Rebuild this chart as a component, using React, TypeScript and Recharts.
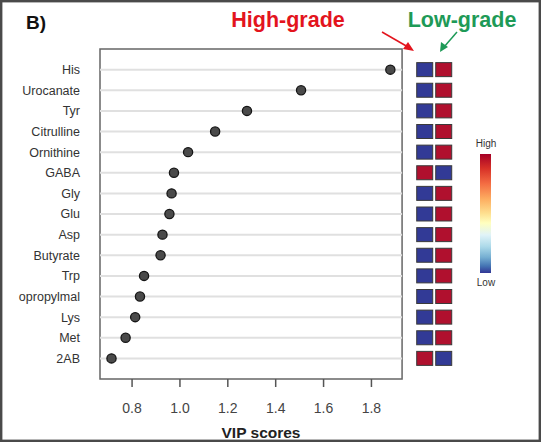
import React from "react";
import {
  ScatterChart,
  Scatter,
  XAxis,
  YAxis,
  ReferenceLine,
  ReferenceArea,
} from "recharts";

// ---- data ----
const metabolites = [
  "His",
  "Urocanate",
  "Tyr",
  "Citrulline",
  "Ornithine",
  "GABA",
  "Gly",
  "Glu",
  "Asp",
  "Butyrate",
  "Trp",
  "opropylmal",
  "Lys",
  "Met",
  "2AB",
];
const vipScores = [1.879, 1.506, 1.28, 1.147, 1.034, 0.975, 0.965, 0.956, 0.927, 0.919, 0.85, 0.833, 0.813, 0.773, 0.714];
// 1 = high relative level, 0 = low
const highGradeLevel = [0, 0, 0, 0, 0, 1, 0, 0, 0, 0, 0, 0, 0, 0, 1];
const lowGradeLevel = [1, 1, 1, 1, 1, 0, 1, 1, 1, 1, 1, 1, 1, 1, 0];
const xTicks = [0.8, 1.0, 1.2, 1.4, 1.6, 1.8];
const groupLabels = ["High-grade", "Low-grade"];
const colorbarLabels = ["High", "Low"];

const FONT = "'Liberation Sans', Arial, Helvetica, sans-serif";
const VIP_MIN = 0.666;
const VIP_MAX = 1.928;
const LOW_COLOR = "#323a96";
const HIGH_COLOR = "#b0102e";

const vipData = metabolites.map((name, i) => ({ name, idx: i, vip: vipScores[i] }));
const highData = metabolites.map((name, i) => ({ name, idx: i, col: 0, level: highGradeLevel[i] }));
const lowData = metabolites.map((name, i) => ({ name, idx: i, col: 1, level: lowGradeLevel[i] }));
const rowIdx = metabolites.map((_, i) => i);

const Dot = (props: any) => {
  const { cx, cy } = props;
  if (cx == null || cy == null) return null;
  return <circle cx={cx} cy={cy} r={4.6} fill="#4a4a4a" stroke="#151515" strokeWidth={1.3} />;
};

const Cell = (props: any) => {
  const { cx, cy, payload } = props;
  if (cx == null || cy == null) return null;
  return (
    <rect
      x={cx - 8}
      y={cy - 7}
      width={16}
      height={14}
      fill={payload.level ? HIGH_COLOR : LOW_COLOR}
      stroke="#3a3a3a"
      strokeWidth={1}
    />
  );
};

export default function App() {
  return (
    <div style={{ position: "absolute", left: 0, top: 0, width: 541, height: 445, background: "#fff", fontFamily: FONT }}>
      <ScatterChart width={541} height={445} margin={{ top: 49, right: 81, bottom: 36, left: 0 }}>
        <XAxis
          xAxisId="vip"
          type="number"
          dataKey="vip"
          domain={[VIP_MIN, 2.17]}
          ticks={xTicks}
          tickFormatter={(v: number) => v.toFixed(1)}
          axisLine={false}
          tickLine={{ stroke: "#555", strokeWidth: 1.5 }}
          tickSize={8}
          tickMargin={16}
          tick={{ fill: "#444", fontSize: 14, fontFamily: FONT }}
          height={30}
          interval={0}
        />
        <XAxis xAxisId="hm" type="number" dataKey="col" domain={[-17.09, 1.857]} hide height={0} />
        <YAxis
          type="number"
          dataKey="idx"
          domain={[-1, 15]}
          reversed
          ticks={rowIdx}
          interval={0}
          tickFormatter={(i: number) => metabolites[i] ?? ""}
          axisLine={false}
          tickLine={false}
          tickSize={0}
          tickMargin={20}
          width={100}
          tick={{ fill: "#333", fontSize: 12.5, fontFamily: FONT }}
        />
        {rowIdx.map((i) => (
          <ReferenceLine
            key={"g" + i}
            xAxisId="vip"
            segment={[
              { x: VIP_MIN, y: i },
              { x: VIP_MAX, y: i },
            ]}
            stroke="#e0e0e0"
            strokeWidth={2}
          />
        ))}
        <ReferenceArea
          xAxisId="vip"
          x1={VIP_MIN}
          x2={VIP_MAX}
          y1={-1}
          y2={15}
          fill="none"
          fillOpacity={0}
          stroke="#666"
          strokeWidth={1.5}
          ifOverflow="visible"
        />
        <Scatter xAxisId="vip" data={vipData} shape={Dot} isAnimationActive={false} />
        <Scatter xAxisId="hm" data={highData} shape={Cell} isAnimationActive={false} />
        <Scatter xAxisId="hm" data={lowData} shape={Cell} isAnimationActive={false} />
      </ScatterChart>
      <svg
        width={541}
        height={445}
        style={{ position: "absolute", left: 0, top: 0, pointerEvents: "none" }}
        fontFamily={FONT}
      >
        <defs>
          <linearGradient id="rdylbu" x1="0" y1="0" x2="0" y2="1">
            <stop offset="0" stopColor="#a50026" />
            <stop offset="0.12" stopColor="#d73027" />
            <stop offset="0.25" stopColor="#f46d43" />
            <stop offset="0.38" stopColor="#fdae61" />
            <stop offset="0.5" stopColor="#fee090" />
            <stop offset="0.58" stopColor="#ffffbf" />
            <stop offset="0.68" stopColor="#e0f3f8" />
            <stop offset="0.78" stopColor="#abd9e9" />
            <stop offset="0.87" stopColor="#74add1" />
            <stop offset="0.94" stopColor="#4575b4" />
            <stop offset="1" stopColor="#313695" />
          </linearGradient>
        </defs>
        <rect x={1.2} y={1.2} width={538.6} height={439.6} fill="none" stroke="#4a4a4a" strokeWidth={2.4} />
        <text x={26} y={29} fontSize={19} fontWeight="bold" fill="#111">
          B)
        </text>
        <text x={288} y={27} fontSize={21.5} fontWeight="bold" fill="#e3141d" textAnchor="middle">
          {groupLabels[0]}
        </text>
        <text x={462} y={27} fontSize={21.5} fontWeight="bold" fill="#1e9a57" textAnchor="middle">
          {groupLabels[1]}
        </text>
        {/* arrows */}
        <line x1={382} y1={32} x2={408} y2={47} stroke="#e3141d" strokeWidth={1.5} />
        <polygon points="414,51 403,49 408,42" fill="#e3141d" />
        <line x1={457} y1={32} x2={444} y2={47} stroke="#1e9a57" strokeWidth={1.5} />
        <polygon points="440,52 441,42 448,47" fill="#1e9a57" />
        {/* colorbar */}
        <rect x={480} y={154} width={11} height={119} fill="url(#rdylbu)" />
        <text x={486} y={147} fontSize={10} fill="#333" textAnchor="middle">
          {colorbarLabels[0]}
        </text>
        <text x={486} y={286} fontSize={10} fill="#333" textAnchor="middle">
          {colorbarLabels[1]}
        </text>
        <text x={261} y={438} fontSize={15.5} fontWeight="bold" fill="#222" textAnchor="middle">
          VIP scores
        </text>
      </svg>
    </div>
  );
}
